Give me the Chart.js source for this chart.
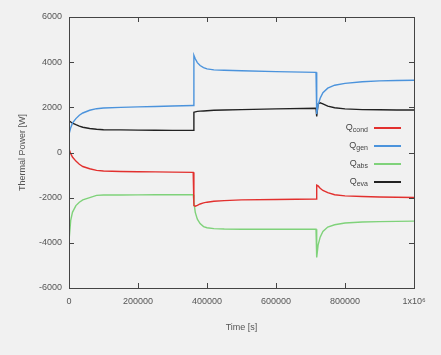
<!DOCTYPE html>
<html><head><meta charset="utf-8">
<script src="https://cdn.jsdelivr.net/npm/chart.js@4/dist/chart.umd.min.js"></script>
<style>html,body{margin:0;padding:0;background:#f1f1f1;}#wrap{width:441px;height:355px;}</style>
</head><body><div id="wrap"><canvas id="c" width="441" height="355"></canvas></div>
<script>
const times = [0,5000,10000,20000,30000,40000,60000,80000,100000,150000,200000,250000,300000,360000,362000,366000,372000,380000,390000,400000,420000,450000,500000,600000,716000,718000,722000,728000,736000,750000,770000,800000,850000,900000,950000,1000000];
const qCond = [150,-50,-200,-380,-520,-620,-720,-790,-820,-840,-850,-860,-870,-880,-2350,-2380,-2340,-2280,-2230,-2200,-2160,-2130,-2100,-2080,-2060,-1450,-1480,-1580,-1680,-1780,-1870,-1920,-1950,-1970,-1980,-1990];
const qGen = [800,1100,1300,1500,1650,1750,1870,1940,1970,2000,2020,2040,2060,2080,4300,4150,3980,3850,3760,3700,3660,3640,3620,3580,3550,1700,2100,2400,2650,2850,2980,3060,3130,3170,3190,3200];
const qAbs = [-3900,-3000,-2650,-2350,-2200,-2100,-2000,-1900,-1880,-1880,-1875,-1872,-1870,-1870,-2200,-2650,-2950,-3150,-3280,-3330,-3370,-3390,-3400,-3400,-3400,-4650,-4100,-3750,-3500,-3300,-3200,-3120,-3080,-3060,-3050,-3040];
const qEva = [1400,1350,1300,1230,1170,1120,1060,1030,1010,1000,990,985,980,980,1780,1800,1820,1830,1840,1850,1870,1880,1900,1930,1960,1600,2150,2200,2150,2050,1980,1930,1900,1890,1880,1880];
const seriesNames = ['cond','gen','abs','eva'];
const seriesColors = ['#e2302e','#4b93dc','#7fd27a','#222222'];
const xTicks = [0,200000,400000,600000,800000,1000000];
const xTickLabels = ['0','200000','400000','600000','800000','1x10\u2076'];
const yTicks = [-6000,-4000,-2000,0,2000,4000,6000];
const yTickLabels = ['-6000','-4000','-2000','0','2000','4000','6000'];

const seriesValues = [qCond,qGen,qAbs,qEva];
const datasets = seriesValues.map((vals,i)=>({
  label:'Q'+seriesNames[i],
  data: times.map((t,j)=>({x:t,y:vals[j]})),
  borderColor: seriesColors[i], backgroundColor: seriesColors[i],
  borderWidth:1.4, pointRadius:0, tension:0, fill:false
}));

const FONT = "'Liberation Sans', Arial, sans-serif";
const framePlugin = {
  id:'frame',
  afterDraw(chart){
    const {ctx, chartArea:a, scales:{x,y}} = chart;
    ctx.save();
    ctx.strokeStyle='#444'; ctx.lineWidth=1;
    ctx.strokeRect(Math.round(a.left)+0.5, Math.round(a.top)+0.5, Math.round(a.right-a.left), Math.round(a.bottom-a.top));
    const L=5;
    ctx.beginPath();
    yTicks.forEach(v=>{const py=Math.round(y.getPixelForValue(v))+0.5;
      ctx.moveTo(a.left,py);ctx.lineTo(a.left+L,py);ctx.moveTo(a.right,py);ctx.lineTo(a.right-L,py);});
    xTicks.forEach(v=>{const px=Math.round(x.getPixelForValue(v))+0.5;
      ctx.moveTo(px,a.bottom);ctx.lineTo(px,a.bottom-L);ctx.moveTo(px,a.top);ctx.lineTo(px,a.top+L);});
    ctx.stroke();
    // legend
    const rows=[128,146,164,182];
    chart.data.datasets.forEach((ds,i)=>{
      const yy=rows[i];
      ctx.strokeStyle=ds.borderColor; ctx.lineWidth=2;
      ctx.beginPath(); ctx.moveTo(374,yy); ctx.lineTo(401,yy); ctx.stroke();
      ctx.fillStyle='#444'; ctx.textBaseline='alphabetic';
      ctx.font='7px '+FONT; const sub=seriesNames[i];
      const sw=ctx.measureText(sub).width;
      ctx.textAlign='right'; ctx.fillText(sub,368,yy+4);
      ctx.font='9px '+FONT; ctx.fillText('Q',368-sw,yy+2);
    });
    ctx.restore();
  }
};

new Chart(document.getElementById('c'),{
  type:'line',
  data:{datasets},
  options:{
    responsive:false, animation:false,
    layout:{padding:{left:0,right:27,top:17,bottom:0}},
    plugins:{legend:{display:false},tooltip:{enabled:false}},
    scales:{
      x:{type:'linear',min:0,max:1000000,
        afterBuildTicks(s){s.ticks=xTicks.map(v=>({value:v}));},
        afterFit(s){s.height=67;},
        grid:{display:false,drawTicks:false},border:{display:false},
        ticks:{padding:8,color:'#555',font:{family:FONT,size:9},maxRotation:0,
          callback:(v)=>{const k=xTicks.indexOf(v);return k>=0?xTickLabels[k]:'';}},
        title:{display:true,text:'Time [s]',color:'#555',font:{family:FONT,size:9},padding:{bottom:22}}
      },
      y:{type:'linear',min:-6000,max:6000,
        afterBuildTicks(s){s.ticks=yTicks.map(v=>({value:v}));},
        afterFit(s){s.width=69;},
        grid:{display:false,drawTicks:false},border:{display:false},
        ticks:{padding:7,color:'#555',font:{family:FONT,size:9},
          callback:(v)=>{const k=yTicks.indexOf(v);return k>=0?yTickLabels[k]:'';}},
        title:{display:true,text:'Thermal Power [W]',color:'#555',font:{family:FONT,size:9},padding:{top:17}}
      }
    }
  },
  plugins:[framePlugin]
});
</script></body></html>
